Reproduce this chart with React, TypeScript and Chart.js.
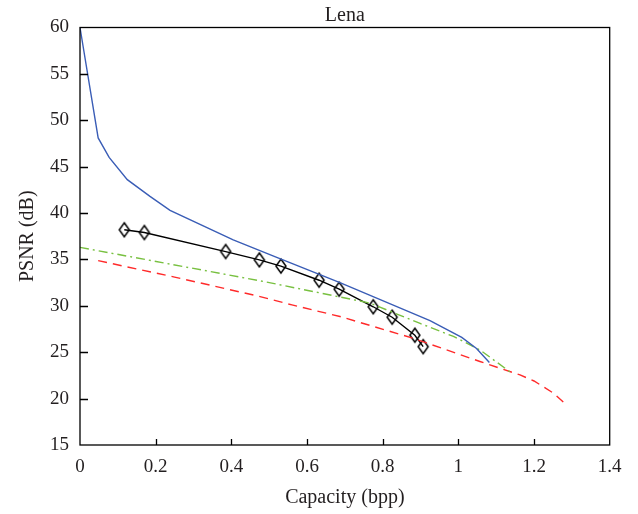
import React, { useEffect, useRef } from "react";
import { Chart, registerables } from "chart.js";

Chart.register(...registerables);

const chartTitle = "Lena";
const xTitle = "Capacity (bpp)";
const yTitle = "PSNR (dB)";

const xMin = 0;
const xMax = 1.4;
const xStep = 0.2;
const yMin = 15;
const yMax = 60;
const yStep = 5;

const blueX = [0, 0.048, 0.077, 0.125, 0.185, 0.238, 0.405, 0.515, 0.687, 0.925, 1.009, 1.048, 1.082];
const blueY = [60, 48.1, 46.0, 43.6, 41.8, 40.3, 37.1, 35.3, 32.5, 28.4, 26.6, 25.4, 23.9];

const blackX = [0.117, 0.17, 0.385, 0.474, 0.531, 0.632, 0.685, 0.775, 0.825, 0.885, 0.907];
const blackY = [38.2, 37.9, 35.85, 34.95, 34.28, 32.76, 31.79, 29.9, 28.77, 26.83, 25.6];

const greenX = [0, 0.476, 0.766, 0.899, 0.987, 1.057, 1.136];
const greenY = [36.3, 32.7, 30.3, 28.1, 26.7, 25.25, 22.9];

const redX = [0.048, 0.25, 0.476, 0.56, 0.687, 0.881, 0.916, 1.057, 1.163, 1.2, 1.251, 1.286];
const redY = [34.87, 33.1, 31.0, 30.1, 28.85, 26.5, 26.0, 24.0, 22.55, 21.9, 20.6, 19.3];

const FONT = "'Liberation Serif', 'Times New Roman', serif";
const TEXT = "#231f20";

function pts(xs: number[], ys: number[]) {
  return xs.map((x, i) => ({ x, y: ys[i] }));
}

function makeDiamond(): HTMLCanvasElement {
  const c = document.createElement("canvas");
  c.width = 14;
  c.height = 18;
  const g = c.getContext("2d")!;
  g.strokeStyle = "#000";
  g.lineWidth = 1.5;
  g.beginPath();
  g.moveTo(7, 2);
  g.lineTo(12, 9);
  g.lineTo(7, 16);
  g.lineTo(2, 9);
  g.closePath();
  g.stroke();
  return c;
}

const framePlugin = {
  id: "frame",
  afterDraw(chart: any) {
    const { ctx, chartArea, scales } = chart;
    const { left, right, top, bottom } = chartArea;
    ctx.save();
    ctx.strokeStyle = "#000";
    ctx.lineWidth = 1.3;
    ctx.strokeRect(left, top, right - left, bottom - top);
    ctx.beginPath();
    for (let v = yMin + yStep; v < yMax; v += yStep) {
      const py = Math.round(scales.y.getPixelForValue(v)) + 0.5;
      ctx.moveTo(left, py);
      ctx.lineTo(left + 8, py);
    }
    for (let v = xMin + xStep; v < xMax - 1e-6; v += xStep) {
      const px = Math.round(scales.x.getPixelForValue(v)) + 0.5;
      ctx.moveTo(px, bottom);
      ctx.lineTo(px, bottom - 6);
    }
    ctx.stroke();

    ctx.fillStyle = TEXT;
    ctx.font = `20px ${FONT}`;
    ctx.textAlign = "center";
    ctx.textBaseline = "middle";
    const cx = (left + right) / 2;
    ctx.fillText(chartTitle, cx, 16);
    ctx.fillText(xTitle, cx, 498);
    ctx.translate(28, (top + bottom) / 2);
    ctx.rotate(-Math.PI / 2);
    ctx.fillText(yTitle, 0, 0);
    ctx.restore();
  },
};

export default function App() {
  const ref = useRef<HTMLCanvasElement>(null);
  useEffect(() => {
    document.body.style.margin = "0";
    const diamond = makeDiamond();
    const chart = new Chart(ref.current!, {
      type: "line",
      data: {
        datasets: [
          {
            label: "blue",
            data: pts(blueX, blueY),
            borderColor: "#3a5db6",
            borderWidth: 1.4,
            pointRadius: 0,
            fill: false,
          },
          {
            label: "green",
            data: pts(greenX, greenY),
            borderColor: "#78c040",
            borderWidth: 1.4,
            borderDash: [9, 4, 2, 4],
            pointRadius: 0,
            fill: false,
          },
          {
            label: "red",
            data: pts(redX, redY),
            borderColor: "#ff2a2a",
            borderWidth: 1.4,
            borderDash: [9, 6],
            pointRadius: 0,
            fill: false,
          },
          {
            label: "black",
            data: pts(blackX, blackY),
            borderColor: "#000",
            borderWidth: 1.4,
            pointStyle: diamond as any,
            pointRadius: 7,
            fill: false,
          },
        ],
      },
      options: {
        responsive: false,
        animation: false,
        layout: { padding: { top: 27.5, right: 28.3, left: 0, bottom: 0 } },
        plugins: { legend: { display: false }, title: { display: false }, tooltip: { enabled: false } },
        elements: { line: { tension: 0 } },
        scales: {
          x: {
            type: "linear",
            min: xMin,
            max: xMax,
            grid: { display: false, drawTicks: false },
            border: { display: false },
            ticks: {
              stepSize: xStep,
              padding: 11,
              color: TEXT,
              font: { family: FONT, size: 19 },
              callback: (v: any) => String(Number(Number(v).toFixed(1))),
            },
            afterFit: (s: any) => {
              s.height = 69;
            },
          },
          y: {
            type: "linear",
            min: yMin,
            max: yMax,
            grid: { display: false, drawTicks: false },
            border: { display: false },
            ticks: {
              stepSize: yStep,
              padding: 11,
              color: TEXT,
              font: { family: FONT, size: 19 },
            },
            afterFit: (s: any) => {
              s.width = 80;
            },
          },
        },
      },
      plugins: [framePlugin],
    });
    return () => chart.destroy();
  }, []);
  return (
    <div style={{ position: "absolute", left: 0, top: 0, width: 638, height: 514 }}>
      <canvas ref={ref} width={638} height={514} />
    </div>
  );
}
